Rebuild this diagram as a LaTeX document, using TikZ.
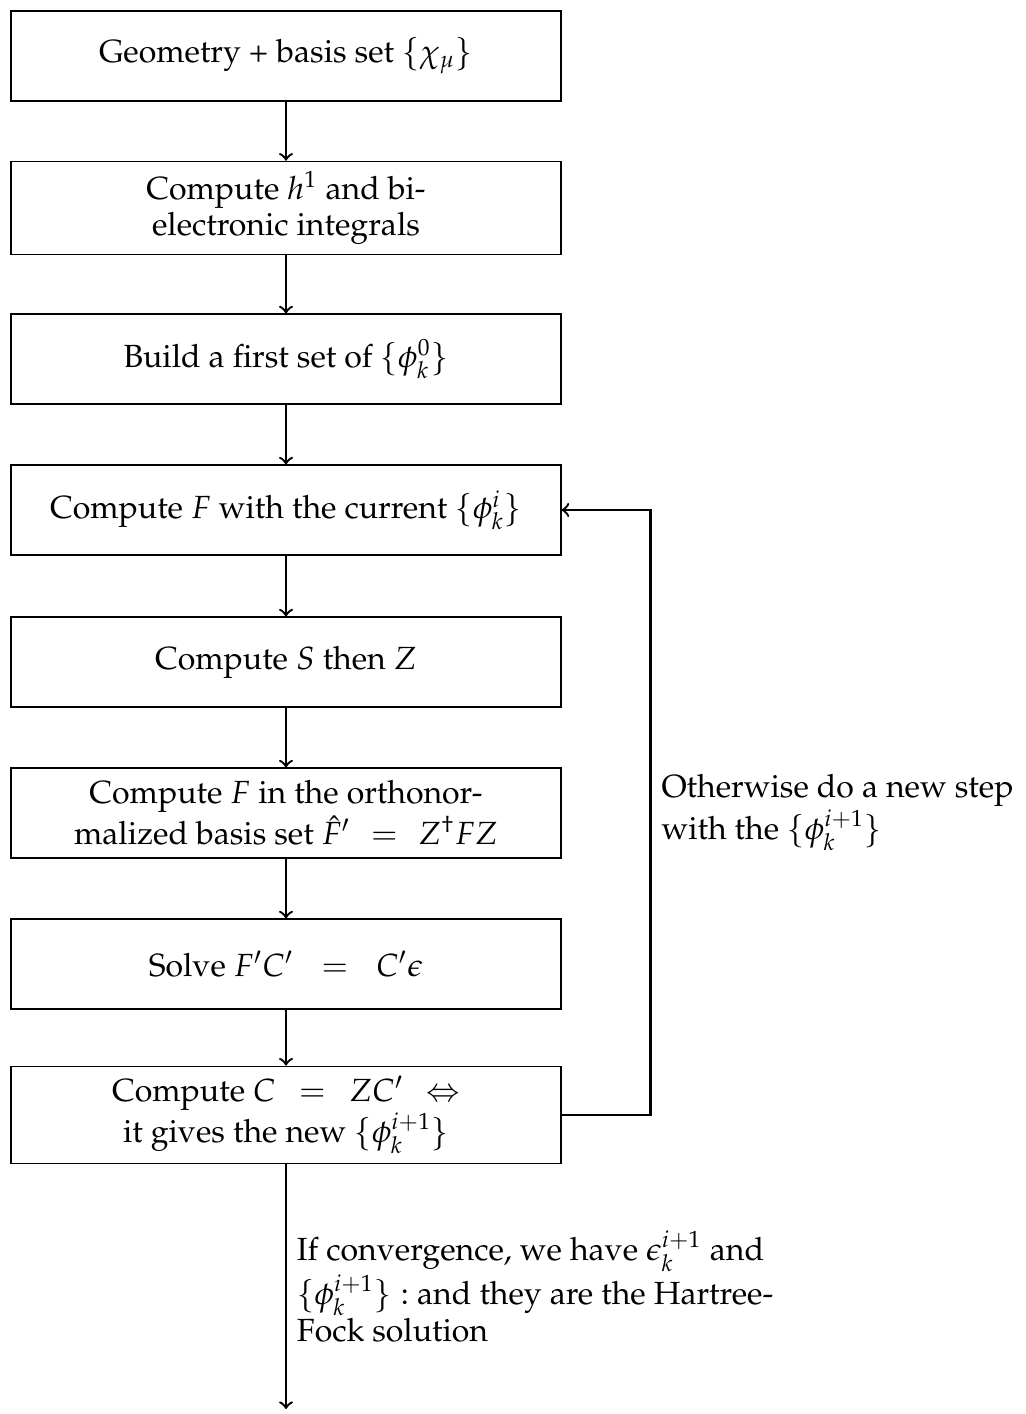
\documentclass[tikz,border=0pt]{standalone}
\usepackage[T1]{fontenc}
\usepackage{mathpazo}
\newcommand{\eqsp}[1]{\mathrel{\hspace{#1}=\hspace{#1}}}
\begin{document}
\begin{tikzpicture}[x=0.34146pt,y=-0.34146pt,
  every node/.style={font=\fontsize{10.95}{12.6}\selectfont},
  box/.style={draw, line width=0.4pt, minimum width=187.8pt, minimum height=30.7pt, align=center, inner sep=3.33pt},
  arr/.style={->, line width=0.8pt},
  lbl/.style={align=left, inner sep=3.33pt}]
\useasboundingbox (0,0) rectangle (1025,1414);
\node[box] (b1) at (286,56) {Geometry + basis set $\{\chi_\mu\}$};
\node[box] (b2) at (286,208) {Compute $h^1$ and bi-\\electronic integrals};
\node[box] (b3) at (286,359) {Build a first set of $\{\phi_k^0\}$};
\node[box] (b4) at (286,510) {Compute $F$ with the current $\{\phi_k^i\}$};
\node[box] (b5) at (286,662) {Compute $S$ then $Z$};
\node[box] (b6) at (286,813) {Compute $F$ in the orthonor-\\malized basis set $\hat{F}' \eqsp{4pt} Z^\dagger F Z$};
\node[box] (b7) at (286,964) {Solve $F'C' \eqsp{6.5pt} C'\epsilon$};
\node[box] (b8) at (286,1115) {Compute $C \eqsp{5pt} ZC' \mathrel{\hspace{4.5pt}\Leftrightarrow}$\\it gives the new $\{\phi_k^{i+1}\}$};
\coordinate (fin) at (286,1409);
\draw[arr] (b1) -- (b2);
\draw[arr] (b2) -- (b3);
\draw[arr] (b3) -- (b4);
\draw[arr] (b4) -- (b5);
\draw[arr] (b5) -- (b6);
\draw[arr] (b6) -- (b7);
\draw[arr] (b7) -- (b8);
\draw[arr] (b8) -- node[midway, right, lbl] {If convergence, we have $\epsilon_k^{i+1}$ and\\$\{\phi_k^{i+1}\} :$ and they are the Hartree-\\Fock solution} (fin);
\draw[arr] (b8.east) -- ++(89,0) coordinate (lp) |- node[pos=0.25, right, lbl] {Otherwise do a new step\\with the $\{\phi_k^{i+1}\}$} (b4.east);
\end{tikzpicture}
\end{document}
